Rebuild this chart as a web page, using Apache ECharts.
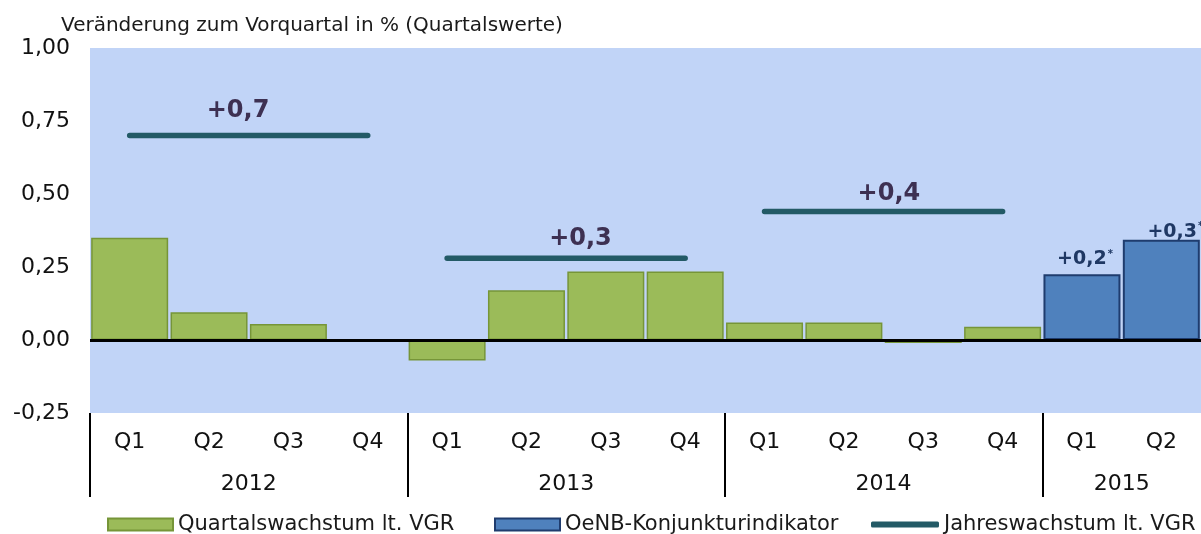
<!DOCTYPE html>
<html>
<head>
<meta charset="utf-8">
<script src="https://cdn.jsdelivr.net/npm/echarts@6/dist/echarts.min.js"></script>
<style>
  html, body { margin: 0; padding: 0; background: #ffffff; }
  #chart { width: 1201px; height: 534px; }
</style>
</head>
<body>
<div id="chart"></div>
<script>
// ---- data ----
const quarters = ['Q1','Q2','Q3','Q4','Q1','Q2','Q3','Q4','Q1','Q2','Q3','Q4','Q1','Q2'];
const years = ['2012', '2013', '2014', '2015'];
const quartersPerYear = [4, 4, 4, 2];
const vgrQuarterly = [0.35, 0.095, 0.055, null, -0.07, 0.17, 0.235, 0.235, 0.06, 0.06, -0.01, 0.045, null, null];
const oenbIndicator = [null, null, null, null, null, null, null, null, null, null, null, null, 0.225, 0.343];
const oenbLabels = ['+0,2', '+0,3'];
const annualGrowth = [0.7, 0.28, 0.44];
const annualLabels = ['+0,7', '+0,3', '+0,4'];
const yTicks = [-0.25, 0, 0.25, 0.5, 0.75, 1.0];

const FONT = 'DejaVu Sans';

// year boundaries / label positions (in quarter units)
const yearStarts = [];
const yearCenters = [];
let acc = 0;
quartersPerYear.forEach(n => { yearStarts.push(acc); yearCenters.push(acc + n / 2); acc += n; });

// annual line series (one per year)
const annualOffsets = [[29, -12], [54, -7], [45, -5]];
const annualSeries = annualGrowth.map((v, yi) => {
  const data = quarters.map(() => null);
  const s = yearStarts[yi];
  for (let k = 0; k < quartersPerYear[yi]; k++) data[s + k] = v;
  data[s + 1] = {
    value: v,
    label: {
      show: true, position: 'top', distance: 0,
      offset: annualOffsets[yi],
      formatter: annualLabels[yi],
      fontFamily: FONT, fontWeight: 'bold', fontSize: 24, color: '#3d3052'
    }
  };
  return {
    name: 'Jahreswachstum lt. VGR',
    type: 'line',
    xAxisIndex: 0, yAxisIndex: 0,
    data: data,
    symbol: 'circle', symbolSize: 1, showSymbol: true,
    connectNulls: false,
    lineStyle: { color: '#235a66', width: 5.5, cap: 'round' },
    itemStyle: { color: '#235a66' },
    z: 5
  };
});

const oenbOffsets = [[3, 0], [14, 7]];
const oenbData = oenbIndicator.map((v, i) => {
  if (v === null) return null;
  const li = i - 12;
  return {
    value: v,
    label: {
      show: true, position: 'top', offset: oenbOffsets[li],
      formatter: oenbLabels[li] + '{s|*}',
      fontFamily: FONT, fontWeight: 'bold', fontSize: 19, color: '#1f3864',
      rich: { s: { fontFamily: FONT, fontSize: 10, color: '#1f3864', verticalAlign: 'top', padding: [0, 0, 10, 1] } }
    }
  };
});

const legendText = { fontFamily: FONT, fontSize: 21, color: '#1a1a1a' };

const chart = echarts.init(document.getElementById('chart'), null, { renderer: 'canvas' });
chart.setOption({
  animation: false,
  backgroundColor: '#ffffff',
  title: {
    text: 'Veränderung zum Vorquartal in % (Quartalswerte)',
    left: 56, top: 11,
    textStyle: { fontFamily: FONT, fontSize: 20, fontWeight: 'normal', color: '#1a1a1a' }
  },
  grid: {
    left: 90, top: 48, width: 1120, bottom: 121,
    show: true, backgroundColor: '#c1d4f7', borderWidth: 0
  },
  legend: [
    {
      data: [{ name: 'Quartalswachstum lt. VGR', icon: 'rect' }], left: 102, top: 509,
      itemWidth: 65, itemHeight: 12, itemGap: 0, textStyle: legendText
    },
    {
      data: [{ name: 'OeNB-Konjunkturindikator', icon: 'rect' }], left: 489, top: 509,
      itemWidth: 65, itemHeight: 12, itemGap: 0, textStyle: legendText
    },
    {
      data: [{ name: 'Jahreswachstum lt. VGR', icon: 'roundRect' }], left: 866, top: 509,
      itemWidth: 68, itemHeight: 6, itemGap: 0, textStyle: legendText,
      itemStyle: { color: '#235a66' }
    }
  ],
  xAxis: [
    {
      type: 'category', data: quarters, position: 'bottom',
      axisLine: { show: false }, axisTick: { show: false },
      axisLabel: { margin: 18, fontFamily: FONT, fontSize: 22, color: '#111', interval: 0 },
      splitLine: { show: false }
    },
    {
      type: 'value', min: 0, max: quarters.length, position: 'bottom',
      axisLine: { show: false },
      splitLine: { show: false },
      axisTick: {
        show: true, customValues: yearStarts, length: 84, inside: false,
        lineStyle: { color: '#000', width: 2 }
      },
      axisLabel: {
        show: true, customValues: yearCenters, margin: 60,
        fontFamily: FONT, fontSize: 22, color: '#111',
        formatter: (v) => { const i = yearCenters.indexOf(v); return i >= 0 ? years[i] : ''; }
      }
    }
  ],
  yAxis: {
    type: 'value', min: yTicks[0], max: yTicks[yTicks.length - 1], interval: 0.25,
    axisLine: { show: false }, axisTick: { show: false }, splitLine: { show: false },
    axisLabel: {
      margin: 20, fontFamily: FONT, fontSize: 22, color: '#111',
      formatter: (v) => v.toFixed(2).replace('.', ',')
    }
  },
  series: [
    {
      name: 'Quartalswachstum lt. VGR',
      type: 'bar', xAxisIndex: 0, yAxisIndex: 0,
      data: vgrQuarterly,
      barWidth: 77, barGap: '-100%',
      itemStyle: { color: '#9bbb59', borderColor: '#769538', borderWidth: 1.5 },
      markLine: {
        silent: true, symbol: 'none', label: { show: false },
        lineStyle: { color: '#000', width: 3, type: 'solid' },
        data: [{ yAxis: 0 }],
        z: 10
      },
      z: 2
    },
    {
      name: 'OeNB-Konjunkturindikator',
      type: 'bar', xAxisIndex: 0, yAxisIndex: 0,
      data: oenbData,
      barWidth: 77, barGap: '-100%',
      itemStyle: { color: '#4f81bd', borderColor: '#1f3c6e', borderWidth: 2 },
      z: 2
    },
    ...annualSeries
  ]
});
</script>
</body>
</html>
